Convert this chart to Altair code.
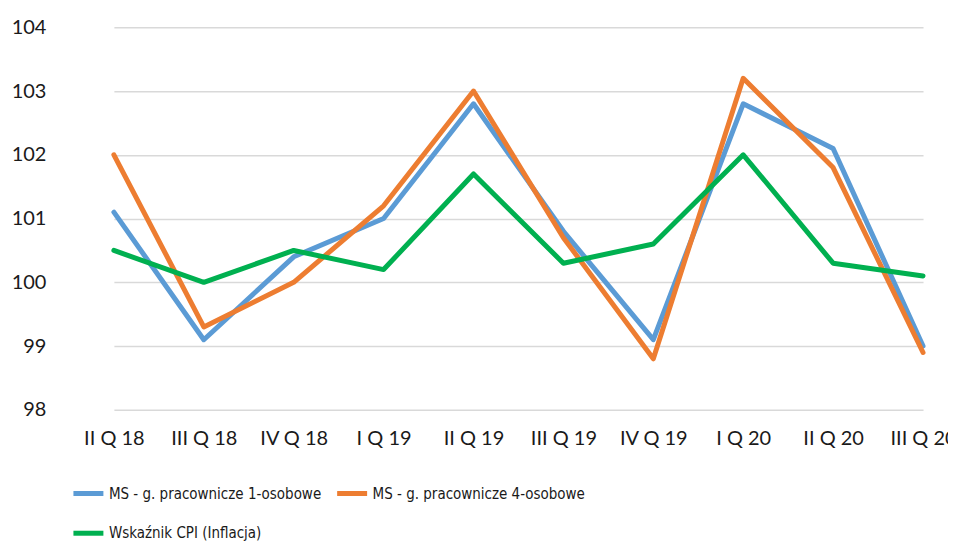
import altair as alt
import pandas as pd

categories = ["II Q 18", "III Q 18", "IV Q 18", "I Q 19", "II Q 19",
              "III Q 19", "IV Q 19", "I Q 20", "II Q 20", "III Q 20"]
ms1 = [101.1, 99.1, 100.4, 101.0, 102.8, 100.8, 99.1, 102.8, 102.1, 99.0]
ms4 = [102.0, 99.3, 100.0, 101.2, 103.0, 100.7, 98.8, 103.2, 101.8, 98.9]
cpi = [100.5, 100.0, 100.5, 100.2, 101.7, 100.3, 100.6, 102.0, 100.3, 100.1]
series_names = ["MS - g. pracownicze 1-osobowe",
                "MS - g. pracownicze 4-osobowe",
                "Wskaźnik CPI (Inflacja)"]
colors = ["#5B9BD5", "#ED7D31", "#00B050"]

rows = []
for name, vals in zip(series_names, [ms1, ms4, cpi]):
    for i, (c, v) in enumerate(zip(categories, vals)):
        rows.append({"kw": c, "val": v, "series": name, "order": i})
df = pd.DataFrame(rows)

FONT = "Lato"
LEGEND_FONT = "DejaVu Sans Condensed, Lato"

chart = alt.Chart(df).mark_line(strokeWidth=5, strokeJoin="round", strokeCap="round").encode(
    x=alt.X("kw:N", sort=categories,
            scale=alt.Scale(type="point", range=[45, 855], padding=0),
            axis=alt.Axis(title=None, labelAngle=0, labelFontSize=20, labelFont=FONT,
                          labelColor="#1a1a1a", ticks=False, domain=False, grid=False,
                          labelPadding=19)),
    y=alt.Y("val:Q", scale=alt.Scale(domain=[98, 104], nice=False, zero=False),
            axis=alt.Axis(title=None, values=[98, 99, 100, 101, 102, 103, 104],
                          labelFontSize=20, labelFont=FONT, labelColor="#1a1a1a",
                          ticks=False, domain=False, labelPadding=23,
                          gridColor="#d9d9d9", gridWidth=1.5)),
    color=alt.Color("series:N", sort=series_names,
                    scale=alt.Scale(domain=series_names, range=colors),
                    legend=alt.Legend(title=None, orient="none", legendX=2, legendY=449,
                                      columns=2, direction="horizontal",
                                      symbolType="stroke", symbolSize=900,
                                      symbolStrokeWidth=5, labelFontSize=15, labelFont=LEGEND_FONT,
                                      labelColor="#1a1a1a", labelOffset=3, columnPadding=5,
                                      rowPadding=12, labelLimit=400)),
    order="order:Q",
).properties(
    width=880, height=383,
    background="white",
    autosize=alt.AutoSizeParams(type="none"),
    padding={"left": 61, "top": 19, "right": 0, "bottom": 131},
).configure_view(stroke=None)

chart.save("out.html", embed_options={"renderer": "svg", "actions": False})
